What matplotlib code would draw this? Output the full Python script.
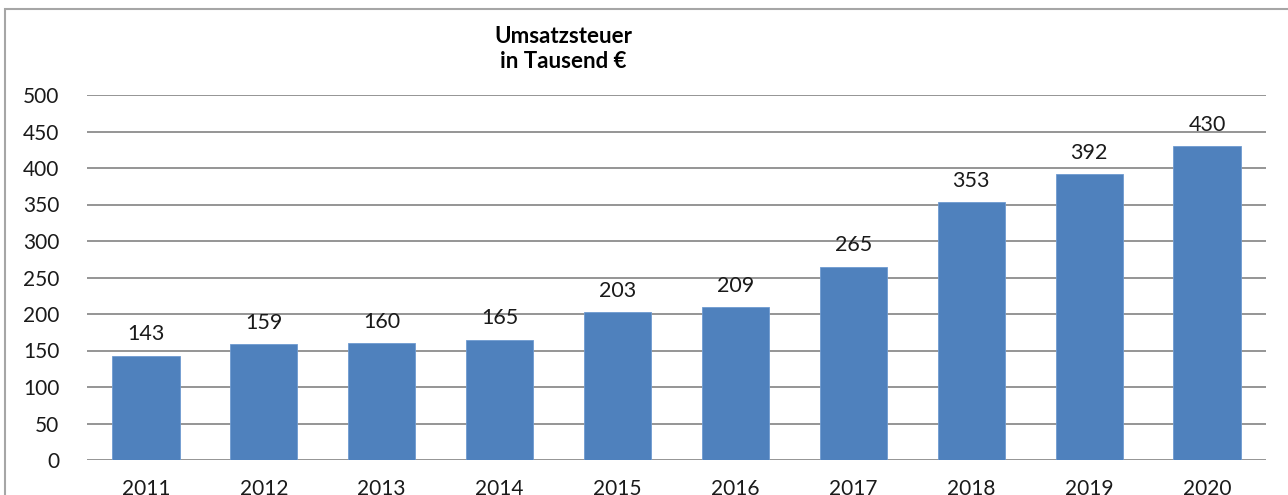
import matplotlib.pyplot as plt
from matplotlib.patches import Rectangle

plt.rcParams['font.family'] = ['Lato', 'DejaVu Sans']

years = ['2011', '2012', '2013', '2014', '2015', '2016', '2017', '2018', '2019', '2020']
umsatzsteuer = [143, 159, 160, 165, 203, 209, 265, 353, 392, 430]
yticks = [0, 50, 100, 150, 200, 250, 300, 350, 400, 450, 500]

W, H = 1288, 495
fig = plt.figure(figsize=(W / 100, H / 100), dpi=100)
ax = fig.add_axes([87 / W, 1 - 460 / H, (1266 - 87) / W, (460 - 95) / H])

# outer frame of the chart area (cut off on the right and bottom)
fig.patches.append(Rectangle((5 / W, -0.1), 1.2, 1 - 9 / H + 0.1, transform=fig.transFigure,
                             fill=False, edgecolor='#a6a6a6', linewidth=1.5))

x = range(len(years))
bars = ax.bar(x, umsatzsteuer, width=0.57, color='#4f81bd', edgecolor='#6f9bd1', linewidth=0.6, zorder=3)

for xi, v in zip(x, umsatzsteuer):
    ax.annotate(str(v), (xi, v), xytext=(0, 8), textcoords='offset points',
                ha='center', va='bottom', fontsize=15.5, color='#1a1a1a')

ax.set_xlim(-0.5, len(years) - 0.5)
ax.set_ylim(0, 500)
ax.set_yticks(yticks)
ax.set_yticklabels([str(t) for t in yticks], fontsize=15)
ax.set_xticks(list(x))
ax.set_xticklabels(years, fontsize=15)
ax.tick_params(axis='y', length=0, pad=20, colors='#1a1a1a')
ax.tick_params(axis='x', length=0, pad=14, colors='#1a1a1a')
ax.yaxis.grid(True, color='#8c8c8c', linewidth=1.3)
ax.set_axisbelow(True)
for s in ax.spines.values():
    s.set_visible(False)

fig.text(563 / W, 1 - 49 / H, 'Umsatzsteuer\nin Tausend €', ha='center', va='center',
         fontsize=16, fontweight='bold', linespacing=1.2)

fig.savefig('out.png', dpi=100)
